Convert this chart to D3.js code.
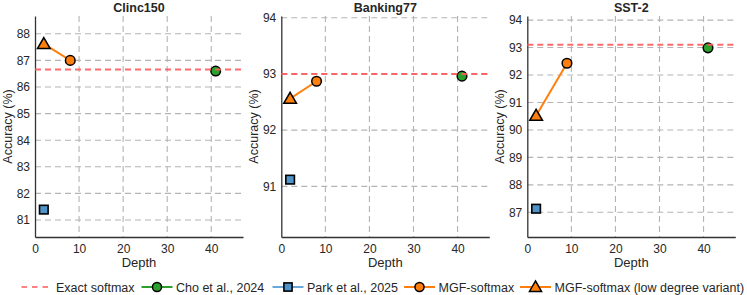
<!DOCTYPE html>
<html>
<head>
<meta charset="utf-8">
<script src="https://cdn.jsdelivr.net/npm/d3@7"></script>
<style>
  body { margin: 0; background: #fff; }
  svg { font-family: "Liberation Sans", Arial, sans-serif; }
</style>
</head>
<body>
<div id="chart"></div>
<script>
// donnees
const datasets = ["Clinc150", "Banking77", "SST-2"];
const exactSoftmax = [86.66, 93.0, 93.1];
const choDepth = [41, 41, 41];
const choAcc = [86.6, 92.96, 92.99];
const parkDepth = [2, 2, 2];
const parkAcc = [81.39, 91.12, 87.13];
const mgfDepth = [8, 8, 9];
const mgfAcc = [87.0, 92.87, 92.43];
const mgfLowDepth = [2, 2, 2];
const mgfLowAcc = [87.62, 92.56, 90.52];
const yDomains = [[80.36, 88.67], [90.1, 94.03], [86.1, 94.15]];
const yTicks = [
  [81, 82, 83, 84, 85, 86, 87, 88],
  [91, 92, 93, 94],
  [87, 88, 89, 90, 91, 92, 93, 94]
];
const xTicks = [0, 10, 20, 30, 40];
const legendLabels = [
  "Exact softmax",
  "Cho et al., 2024",
  "Park et al., 2025",
  "MGF-softmax",
  "MGF-softmax (low degree variant)"
];

const width = 747, height = 295;
const panelLeft = [35, 281.3, 527.3];
const panelWidth = 208;
const plotTop = 16, plotBottom = 237;

const colors = {
  exact: "#ff5a5a",
  cho: "#2ca02c",
  park: "#4f93c8",
  parkLine: "#6ba7d8",
  mgf: "#ff7f0e",
  grid: "#b4b4b4",
  axis: "#333",
  text: "#262626"
};

const svg = d3
  .select("#chart")
  .append("svg")
  .attr("width", width)
  .attr("height", height);

const tri = d3.symbol().type(d3.symbolTriangle).size(70);

function drawMarker(g, kind, x, y, s = 1) {
  if (kind === "circle" || kind === "cho") {
    g.append("circle")
      .attr("cx", x).attr("cy", y).attr("r", 4.8 * s)
      .attr("fill", kind === "cho" ? colors.cho : colors.mgf)
      .attr("stroke", "#000").attr("stroke-width", 1.5);
  } else if (kind === "square") {
    g.append("rect")
      .attr("x", x - 4.3 * s).attr("y", y - 4.3 * s)
      .attr("width", 8.6 * s).attr("height", 8.6 * s)
      .attr("fill", colors.park).attr("stroke", "#000").attr("stroke-width", 1.6);
  } else if (kind === "triangle") {
    g.append("path")
      .attr("d", tri.size(70 * s * s)())
      .attr("transform", `translate(${x},${y + 1 * s})`)
      .attr("fill", colors.mgf).attr("stroke", "#000").attr("stroke-width", 1.5)
      .attr("stroke-linejoin", "miter");
  }
}

datasets.forEach((name, i) => {
  const x = d3.scaleLinear().domain([0, 47.2]).range([panelLeft[i], panelLeft[i] + panelWidth]);
  const y = d3.scaleLinear().domain(yDomains[i]).range([plotBottom, plotTop]);
  const g = svg.append("g");

  // grille
  g.append("g")
    .selectAll("line")
    .data(yTicks[i])
    .join("line")
    .attr("x1", x.range()[0]).attr("x2", x.range()[1])
    .attr("y1", (d) => y(d)).attr("y2", (d) => y(d))
    .attr("stroke", colors.grid).attr("stroke-width", 1.1)
    .attr("stroke-dasharray", "6,4");
  g.append("g")
    .selectAll("line")
    .data(xTicks.filter((d) => d > 0))
    .join("line")
    .attr("x1", (d) => x(d)).attr("x2", (d) => x(d))
    .attr("y1", plotTop).attr("y2", plotBottom)
    .attr("stroke", colors.grid).attr("stroke-width", 1.1)
    .attr("stroke-dasharray", "6,4");

  // axes
  const xAxis = g.append("g")
    .attr("transform", `translate(0,${plotBottom})`)
    .call(d3.axisBottom(x).tickValues(xTicks).tickSize(0).tickPadding(7));
  const yAxis = g.append("g")
    .attr("transform", `translate(${panelLeft[i]},0)`)
    .call(d3.axisLeft(y).tickValues(yTicks[i]).tickFormat(d3.format("d")).tickSize(0).tickPadding(5));
  [xAxis, yAxis].forEach((a) => {
    a.attr("font-family", null);
    a.select(".domain").attr("stroke", colors.axis).attr("stroke-width", 1.3);
    a.selectAll("text").attr("font-size", 12).attr("fill", colors.text);
  });

  // titre et libelles
  g.append("text")
    .attr("x", panelLeft[i] + panelWidth / 2).attr("y", 12)
    .attr("text-anchor", "middle").attr("font-size", 12.5).attr("font-weight", "bold")
    .attr("fill", colors.text).text(name);
  g.append("text")
    .attr("x", panelLeft[i] + panelWidth / 2).attr("y", 267)
    .attr("text-anchor", "middle").attr("font-size", 13)
    .attr("fill", colors.text).text("Depth");
  g.append("text")
    .attr("transform", `translate(${panelLeft[i] - 23},${(plotTop + plotBottom) / 2}) rotate(-90)`)
    .attr("text-anchor", "middle").attr("font-size", 12.5)
    .attr("fill", colors.text).text("Accuracy (%)");

  // ligne MGF
  g.append("line")
    .attr("x1", x(mgfLowDepth[i])).attr("y1", y(mgfLowAcc[i]))
    .attr("x2", x(mgfDepth[i])).attr("y2", y(mgfAcc[i]))
    .attr("stroke", colors.mgf).attr("stroke-width", 2);

  drawMarker(g, "cho", x(choDepth[i]), y(choAcc[i]));
  drawMarker(g, "square", x(parkDepth[i]), y(parkAcc[i]));
  drawMarker(g, "circle", x(mgfDepth[i]), y(mgfAcc[i]));
  drawMarker(g, "triangle", x(mgfLowDepth[i]), y(mgfLowAcc[i]));

  // softmax exacte
  g.append("line")
    .attr("x1", x.range()[0]).attr("x2", x.range()[1])
    .attr("y1", y(exactSoftmax[i])).attr("y2", y(exactSoftmax[i]))
    .attr("stroke", colors.exact).attr("stroke-width", 2)
    .attr("stroke-dasharray", "6,4").attr("opacity", 0.9);
});

// legende
const legendX = [21.5, 141.5, 272.5, 404, 520];
const legendKinds = ["exact", "cho", "square", "circle", "triangle"];
const legendY = 287;
const lineLen = 31;
const legend = svg.append("g");
legendLabels.forEach((label, i) => {
  const x0 = legendX[i];
  const item = legend.append("g");
  if (legendKinds[i] === "exact") {
    item.append("line")
      .attr("x1", x0).attr("x2", x0 + lineLen).attr("y1", legendY).attr("y2", legendY)
      .attr("stroke", colors.exact).attr("stroke-width", 1.6).attr("stroke-dasharray", "5.5,5");
  } else {
    const c = legendKinds[i] === "cho" ? colors.cho
      : legendKinds[i] === "square" ? colors.parkLine : colors.mgf;
    item.append("line")
      .attr("x1", x0).attr("x2", x0 + lineLen).attr("y1", legendY).attr("y2", legendY)
      .attr("stroke", c).attr("stroke-width", 2);
    drawMarker(item, legendKinds[i], x0 + lineLen / 2, legendY, 0.95);
  }
  item.append("text")
    .attr("x", x0 + lineLen + 3.5).attr("y", legendY + 4.5)
    .attr("font-size", 12.5).attr("fill", colors.text)
    .text(label);
});
</script>
</body>
</html>
